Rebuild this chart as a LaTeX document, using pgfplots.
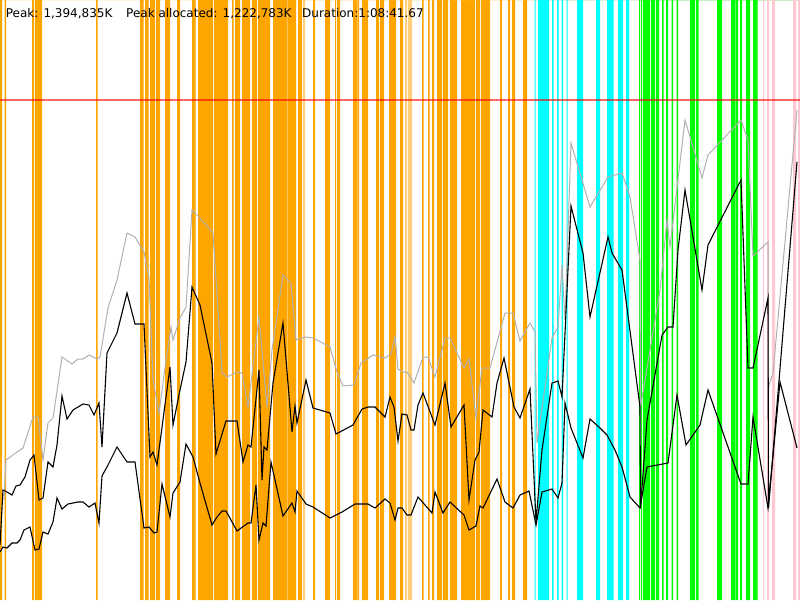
\documentclass[border=0pt]{standalone}
\usepackage{pgfplots}
\pgfplotsset{compat=1.18}
\usepackage{fontspec}
\setmainfont{DejaVu Sans}
\definecolor{bOrange}{HTML}{FFA500}
\definecolor{bLightOrange}{HTML}{FFCF7A}
\definecolor{bCyan}{HTML}{00FFFF}
\definecolor{bGreen}{HTML}{00FF00}
\definecolor{bPink}{HTML}{FFC8D2}
\definecolor{lineGray}{HTML}{B0B0B0}
\begin{document}
\begin{tikzpicture}
\begin{axis}[
  width=800pt, height=600pt, scale only axis,
  xmin=0, xmax=800, ymin=0, ymax=600, y dir=reverse,
  hide axis, clip=true,
]
% orange bands (start,600)(end,0)
\addplot[const plot, fill=bOrange, draw=none] coordinates {
(0,600)(2,0)(4.5,600)(6,0)(32,600)(34,0)(35,600)(42,0)(96,600)(97.5,0)
(140,600)(143.5,0)(145,600)(148.5,0)(150,600)(155,0)(156,600)(160,0)
(165,600)(170,0)(177,600)(180,0)(192,600)(195.5,0)(198,600)(213,0)
(214,600)(228,0)(232,600)(233.5,0)(235,600)(240,0)(242,600)(250,0)
(252,600)(257,0)(258,600)(270,0)(273,600)(287,0)(287.7,600)(296,0)
(298,600)(302,0)(313,600)(315,0)(325,600)(330,0)(335,600)(336,0)
(337,600)(340,0)(353,600)(357,0)(357.7,600)(359,0)(362,600)(368,0)
(376,600)(379,0)(380,600)(384,0)(389,600)(396,0)(400,600)(403,0)
(422,600)(423.5,0)(428,600)(429.5,0)(432,600)(434,0)(437,600)(442,0)
(443,600)(448,0)(450,600)(457,0)(461,600)(475,0)(476,600)(480,0)
(481,600)(490,0)(500,600)(502,0)(508,600)(510,0)(512,600)(515,0)
(523,600)(527,0)(800,0)
} \closedcycle;
\addplot[const plot, fill=bLightOrange, draw=none] coordinates {
(303,600)(305,0)(405,600)(407,0)(408,600)(412,0)(800,0)
} \closedcycle;
% cyan bands
\addplot[const plot, fill=bCyan, draw=none] coordinates {
(534.5,600)(535.7,0)(538,600)(549,0)(552,600)(553.5,0)(557,600)(558.5,0)
(561.5,600)(563,0)(566.5,600)(567.7,0)(577,600)(583,0)(596,600)(600,0)
(607,600)(613.5,0)(618,600)(623,0)(626,600)(629,0)(800,0)
} \closedcycle;
% green bands
\addplot[const plot, fill=bGreen, draw=none] coordinates {
(639,600)(640,0)(641,600)(642,0)(643,600)(650,0)(651,600)(655,0)
(656,600)(659,0)(662,600)(663.5,0)(666,600)(668,0)(671.5,600)(673,0)
(676.5,600)(678,0)(690,600)(695,0)(696,600)(698.5,0)(717,600)(722,0)
(731,600)(735,0)(735.7,600)(738,0)(740,600)(742,0)(746,600)(750,0)
(753,600)(757.5,0)(800,0)
} \closedcycle;
% pink bands
\addplot[const plot, fill=bPink, draw=none] coordinates {
(763,600)(764,0)(767,600)(769,0)(772,600)(775,0)(793,600)(796,0)(798,600)(800,0)(800.5,0)
} \closedcycle;
% red limit line
\addplot[red, opacity=0.6, line width=2pt] coordinates {(0,100)(800,100)};
% gray line
\addplot[lineGray, line width=1pt] coordinates {
(4,500)(6,460)(10,457)(17,452)(23,448)(33,417)(38,417)(43,460)(48,423)(53,418)
(62,357)(72,364)(78,359)(83,359)(89,355)(97,359)(100,357)(108,308)(117,280)
(127,233)(135,237)(144,252)(149,278)(153,380)(159,413)(166,360)(171,327)
(173,340)(180,318)(186,307)(192,210)(200,218)(213,233)(222,373)(227,377)
(237,372)(242,373)(248,407)(259,317)(267,407)(272,350)(283,275)(291,283)
(296,340)(305,337)(313,338)(330,347)(337,372)(343,386)(354,385)(361,363)
(373,355)(385,358)(391,354)(395,337)(398,369)(403,372)(407,372)(414,383)
(423,357)(428,357)(435,377)(445,338)(450,338)(464,368)(469,359)(476,418)
(482,368)(490,368)(505,313)(513,313)(520,341)(530,323)(535,332)(537,443)
(552,338)(558,327)(562,265)(565,320)(571,143)(590,207)(608,177)(622,173)
(630,197)(640,260)(640.5,407)(660,290)(667,220)(670,247)(685,120)(702,178)
(708,155)(741,120)(748,140)(753,256)(768,242)(768.5,387)(773,373)(797,110)
};
% upper black line
\addplot[black, line width=1.1pt] coordinates {
(0,545)(3,490)(7,492)(12,495)(16,486)(20,485)(25,477)(30,460)(34,455)(39,500)
(43,498)(48,462)(53,467)(57,445)(62,396)(67,419)(73,410)(83,404)(89,405)
(94,415)(99,403)(102,447)(107,353)(117,333)(127,293)(135,324)(144,324)
(150,457)(153,452)(157,465)(170,367)(173,425)(180,390)(186,362)(192,287)
(200,305)(212,363)(216,454)(226,421)(237,421)(243,462)(248,445)(251,447)
(259,370)(262,480)(264,447)(267,450)(273,383)(283,323)(292,432)(295,406)
(297,423)(306,380)(313,408)(330,413)(336,434)(353,425)(362,409)(368,407)
(375,407)(385,417)(390,397)(394,407)(398,441)(402,414)(407,415)(411,430)
(414,430)(418,405)(423,393)(435,425)(445,383)(451,427)(464,405)(469,500)
(475,460)(479,452)(483,410)(492,417)(497,383)(504,358)(514,407)(520,418)
(530,389)(536,522)(542,450)(552,383)(558,381)(562,397)(571,206)(583,253)
(590,317)(608,237)(612,253)(622,270)(640,407)(640.5,508)(647,420)(662,335)
(668,327)(673,327)(678,250)(685,190)(702,290)(708,245)(741,180)(748,368)
(753,368)(768,298)(768.5,508)(797,162)
};
% lower black line
\addplot[black, line width=1.1pt] coordinates {
(0,552)(3,547)(7,548)(12,543)(17,543)(20,540)(24,530)(30,527)(35,550)(39,549)
(43,532)(48,534)(53,522)(57,498)(62,509)(68,504)(78,502)(83,502)(89,507)
(95,503)(99,523)(102,476)(108,465)(117,447)(127,462)(135,462)(144,528)
(149,527)(154,533)(157,532)(162,484)(170,517)(173,493)(180,482)(186,444)
(193,457)(200,483)(212,525)(217,517)(222,511)(226,511)(237,531)(248,523)
(251,523)(256,485)(259,540)(263,523)(266,526)(271,462)(283,516)(292,503)
(295,512)(297,491)(306,504)(313,507)(330,518)(342,512)(355,504)(368,504)
(375,508)(385,499)(390,503)(395,520)(398,508)(402,508)(407,515)(411,515)
(418,497)(432,513)(435,492)(443,513)(450,502)(464,515)(469,530)(476,526)
(480,506)(483,508)(497,479)(505,502)(513,508)(520,495)(529,491)(536,525)
(542,492)(552,489)(558,498)(562,483)(565,403)(571,428)(583,458)(590,419)
(600,428)(607,435)(615,450)(622,467)(630,497)(640,508)(647,467)(668,463)
(677,395)(686,445)(700,425)(708,390)(741,484)(748,484)(753,417)(768,508)
(780,382)(797,448)
};
\node[anchor=base west, font=\fontsize{12}{14}\selectfont, inner sep=0pt] at (axis cs:5.7,17.3) {Peak: 1,394,835K};
\node[anchor=base west, font=\fontsize{12}{14}\selectfont, inner sep=0pt] at (axis cs:126,17.3) {Peak allocated: 1,222,783K};
\node[anchor=base west, font=\fontsize{12}{14}\selectfont, inner sep=0pt] at (axis cs:302,17.3) {Duration:1:08:41.67};
\end{axis}
\end{tikzpicture}
\end{document}
